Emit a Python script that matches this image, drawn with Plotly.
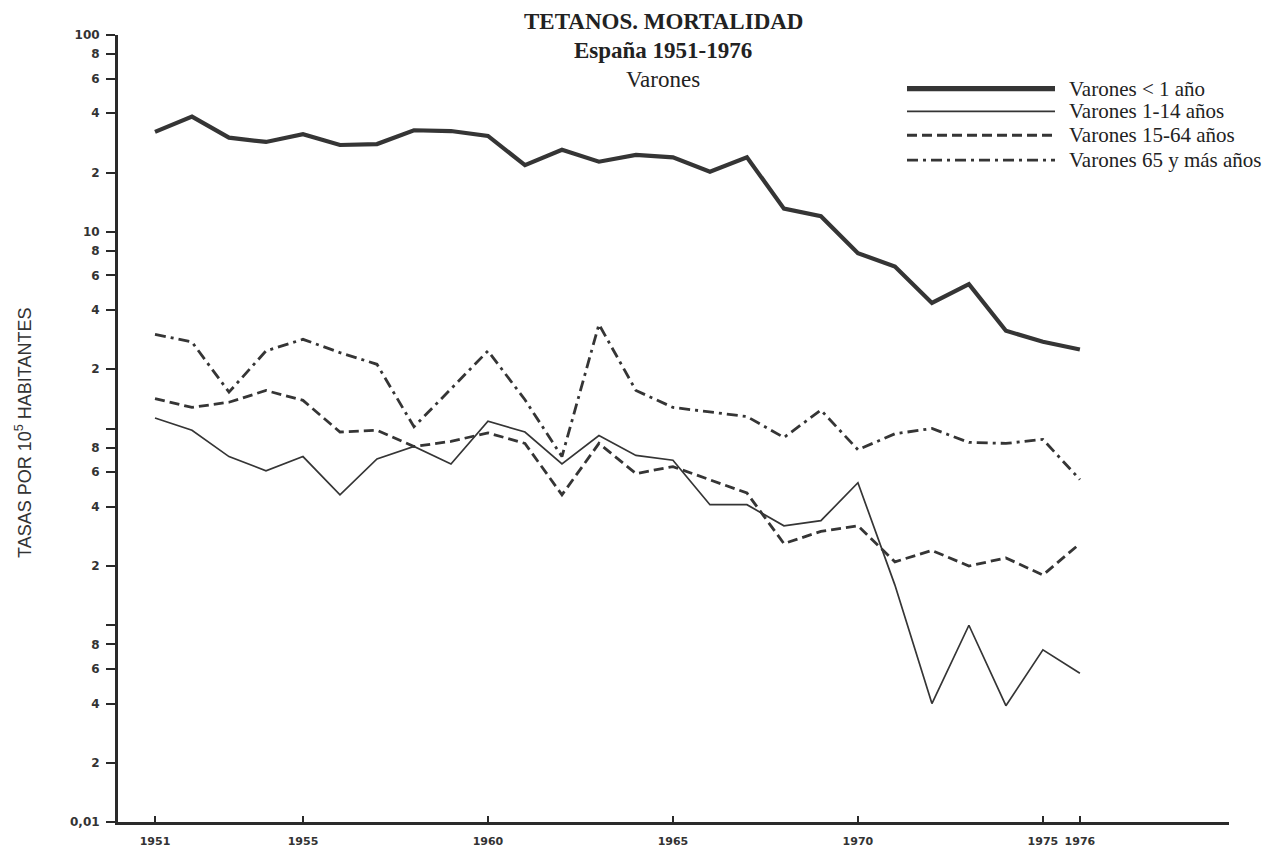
import plotly.graph_objects as go

years = list(range(1951, 1977))
menos_1 = [32.2, 38.5, 30.1, 28.6, 31.3, 27.6, 27.9, 32.8, 32.5, 30.7,
           21.8, 26.1, 22.7, 24.6, 23.9, 20.2, 23.9, 13.1, 12.0, 7.78,
           6.66, 4.35, 5.42, 3.14, 2.76, 2.52]
de_1_14 = [1.13, 0.98, 0.72, 0.61, 0.72, 0.46, 0.70, 0.81, 0.66, 1.09,
           0.96, 0.66, 0.92, 0.73, 0.69, 0.41, 0.41, 0.32, 0.34, 0.53,
           0.16, 0.040, 0.10, 0.039, 0.075, 0.057]
de_15_64 = [1.42, 1.28, 1.36, 1.56, 1.39, 0.96, 0.98, 0.81, 0.86, 0.95,
            0.84, 0.46, 0.84, 0.59, 0.64, 0.55, 0.47, 0.26, 0.30, 0.32,
            0.21, 0.24, 0.20, 0.22, 0.18, 0.26]
de_65_mas = [3.01, 2.75, 1.53, 2.48, 2.84, 2.43, 2.12, 1.02, 1.59, 2.48,
             1.40, 0.72, 3.38, 1.56, 1.28, 1.21, 1.15, 0.90, 1.24, 0.78,
             0.94, 1.00, 0.85, 0.84, 0.88, 0.55]

series_names = ["Varones < 1 año", "Varones 1-14 años",
                "Varones 15-64 años", "Varones 65 y más años"]

x_tickvals = [1951, 1955, 1960, 1965, 1970, 1975, 1976]
x_ticktext = ["1951", "1955", "1960", "1965", "1970", "1975", "1976"]

y_tickvals = [100, 80, 60, 40, 20, 10, 8, 6, 4, 2, 0.8, 0.6, 0.4, 0.2,
              0.08, 0.06, 0.04, 0.02, 0.01]
y_ticktext = ["100", "8", "6", "4", "2", "10", "8", "6", "4", "2",
              "8", "6", "4", "2", "8", "6", "4", "2", "0,01"]
y_unlabeled_ticks = [1, 0.1]

INK = "#353535"
styles = [dict(width=4.2, dash="solid"),
          dict(width=1.7, dash="solid"),
          dict(width=2.8, dash="10px,5px"),
          dict(width=2.8, dash="11px,5px,3px,5px")]

fig = go.Figure()
for name, vals, st in zip(series_names, [menos_1, de_1_14, de_15_64, de_65_mas], styles):
    fig.add_trace(go.Scatter(x=years, y=vals, mode="lines", name=name,
                             line=dict(color=INK, width=st["width"], dash=st["dash"]),
                             showlegend=False, hoverinfo="x+y"))

W, H = 1272, 860
L, R, T, B = 118, 43, 35, 32
PW, PH = W - L - R, H - T - B


def px(xp):
    return (xp - L) / PW


def py(yp):
    return (H - B - yp) / PH


serif = "Liberation Serif"

title_lines = [
    dict(text="<b>TETANOS. MORTALIDAD</b>", y=21, size=23),
    dict(text="<b>España 1951-1976</b>", y=51, size=23),
    dict(text="Varones", y=80, size=23),
]
ann_list = []
for a in title_lines:
    ann_list.append(dict(text=a["text"], x=px(663), y=py(a["y"]), xref="paper", yref="paper",
                         showarrow=False, xanchor="center", yanchor="middle",
                         font=dict(family=serif, size=a["size"], color="#222")))

legend_rows = [89, 112, 136, 161]
shapes = []
for name, st, yr in zip(series_names, styles, legend_rows):
    shapes.append(dict(type="line", xref="paper", yref="paper",
                       x0=px(907), x1=px(1055), y0=py(yr), y1=py(yr),
                       line=dict(color=INK, width=st["width"] + (1 if st["width"] > 4 else 0),
                                 dash=st["dash"])))
    ann_list.append(dict(text=name, x=px(1067), y=py(yr), xref="paper", yref="paper",
                         showarrow=False, xanchor="left", yanchor="middle",
                         font=dict(family=serif, size=21, color="#222")))

ann_list.append(dict(text="TASAS POR 10<sup>5</sup> HABITANTES", x=px(24), y=py(436),
                     xref="paper", yref="paper", showarrow=False, textangle=-90,
                     xanchor="center", yanchor="middle",
                     font=dict(family="Liberation Sans", size=18, color="#333")))

fig.update_layout(
    width=W, height=H,
    margin=dict(l=L, r=R, t=T, b=B, pad=0),
    paper_bgcolor="white", plot_bgcolor="white",
    showlegend=False,
    annotations=ann_list,
    shapes=shapes,
    xaxis=dict(range=[1950, 1980.03], tickvals=x_tickvals, ticktext=x_ticktext,
               showgrid=False, zeroline=False, showline=True, linecolor="#2a2a2a",
               linewidth=3, ticks="inside", ticklen=6, tickwidth=1.5, tickcolor="#2a2a2a",
               tickfont=dict(family="DejaVu Sans", size=11, color="#333", weight="bold"),
               ticklabelstandoff=7),
    yaxis=dict(type="log", range=[-2, 2], tickvals=y_tickvals, ticktext=y_ticktext,
               showgrid=False, zeroline=False, showline=True, linecolor="#2a2a2a",
               linewidth=3, ticks="outside", ticklen=9, tickwidth=2, tickcolor="#2a2a2a",
               tickfont=dict(family="DejaVu Sans", size=12, color="#333", weight="bold"),
               ticklabelstandoff=4,
               minor=dict(tickvals=y_unlabeled_ticks, ticks="outside", ticklen=9,
                          tickwidth=2, tickcolor="#2a2a2a", showgrid=False)),
)

fig.write_html("out.html", config={"displayModeBar": False},
               post_script="document.body.style.margin='0px';")
